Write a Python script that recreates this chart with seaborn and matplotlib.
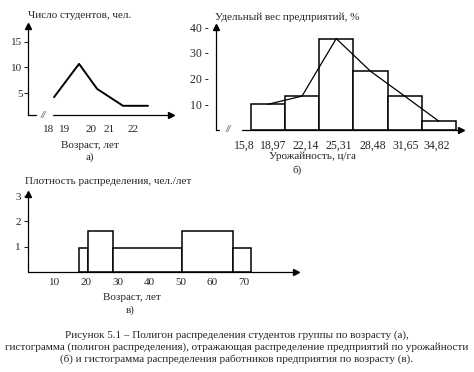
## Figure 5.1: polygon and histograms of distributions (student ages, yields, worker ages)
import numpy as np
import pandas as pd
import seaborn as sns
import matplotlib.pyplot as plt

# а) polygon: students by age
age_points = [18.24, 19.43, 20.29, 21.52, 22.71]
students = [4.2, 10.7, 5.8, 2.5, 2.5]
age_tick_pos = [18, 18.76, 20.0, 20.86, 22.0]
age_tick_labels = ["18", "19", "20", "21", "22"]

# б) histogram + polygon: share of enterprises by yield
yield_edges = [15.8, 18.97, 22.14, 25.31, 28.48, 31.65, 34.82]
share = [10, 13.2, 35.6, 22.9, 13.2, 3.4]
yield_tick_pos = [15.24, 17.93, 20.89, 23.98, 27.13, 30.16, 33.06]
yield_tick_labels = ["15,8", "18,97", "22,14", "25,31", "28,48", "31,65", "34,82"]

# в) histogram with unequal intervals: workers by age
worker_edges = [17.6, 20.4, 28.5, 50.2, 66.6, 72.1]
density = [0.95, 1.6, 0.95, 1.6, 0.95]

sns.set_theme(style="white")
plt.rcParams["font.family"] = ["Liberation Serif", "DejaVu Serif"]
FS = 8

W, H = 474, 372
fig = plt.figure(figsize=(W / 100, H / 100), dpi=100)


def px_axes(left, top, right, bottom):
    return fig.add_axes([left / W, 1 - bottom / H, (right - left) / W, (bottom - top) / H])


def draw_frame(ax, gap=None):
    for s in ax.spines.values():
        s.set_visible(False)
    ax.set_facecolor("none")
    kw = dict(transform=ax.transAxes, color="black", lw=0.9, clip_on=False)
    ax.plot([0, 0], [0, 0.985], **kw)
    ax.plot(0, 0.985, marker="^", color="black", ms=4, transform=ax.transAxes, clip_on=False)
    if gap is None:
        ax.plot([0, 0.985], [0, 0], **kw)
    else:
        ax.plot([0, gap[0]], [0, 0], **kw)
        ax.plot([gap[1], 0.985], [0, 0], **kw)
        ax.text((gap[0] + gap[1]) / 2 - 0.01, 0, "//", transform=ax.transAxes, fontsize=7,
                style="italic", ha="center", va="center")
    ax.plot(0.985, 0, marker=">", color="black", ms=4, transform=ax.transAxes, clip_on=False)


# а)
ax1 = px_axes(28, 25, 173, 115)
sns.lineplot(x=age_points, y=students, ax=ax1, color="black", lw=1.4)
ax1.set_xlim(17.0, 23.9)
ax1.set_ylim(0.7, 18.3)
ax1.set_yticks([5, 10, 15])
ax1.set_xticks(age_tick_pos)
ax1.set_xticklabels(age_tick_labels)
ax1.tick_params(axis="y", left=True, length=3, width=0.8, pad=1, labelsize=FS)
ax1.tick_params(axis="x", bottom=False, length=0, pad=7, labelsize=FS)
draw_frame(ax1, gap=((36 - 28) / 145, (53 - 28) / 145))

# б)
ax2 = px_axes(216, 25, 465, 130)
mids = [(a + b) / 2 for a, b in zip(yield_edges[:-1], yield_edges[1:])]
sns.histplot(x=mids, weights=share, bins=yield_edges, ax=ax2, color="white",
             edgecolor="black", linewidth=1.1, alpha=1)
sns.lineplot(x=mids, y=share, ax=ax2, color="black", lw=0.9)
ax2.set_xlim(12.59, 35.65)
ax2.set_ylim(0, 40.9)
ax2.set_yticks([10, 20, 30, 40])
ax2.set_yticklabels(["10 -", "20 -", "30 -", "40 -"])
ax2.set_xticks(yield_tick_pos)
ax2.set_xticklabels(yield_tick_labels)
ax2.set_xlabel("")
ax2.set_ylabel("")
ax2.tick_params(axis="y", left=False, length=0, pad=5, labelsize=8.5)
ax2.tick_params(axis="x", bottom=False, length=0, pad=7, labelsize=8.5)
draw_frame(ax2, gap=((219 - 216) / 249, (242 - 216) / 249))

# в)
ax3 = px_axes(28, 193, 300, 272)
wmids = [(a + b) / 2 for a, b in zip(worker_edges[:-1], worker_edges[1:])]
sns.histplot(x=wmids, weights=density, bins=worker_edges, ax=ax3, color="white",
             edgecolor="black", linewidth=1.1, alpha=1)
ax3.set_xlim(1.43, 87.8)
ax3.set_ylim(0, 3.12)
ax3.set_yticks([1, 2, 3])
ax3.set_xticks([10, 20, 30, 40, 50, 60, 70])
ax3.set_xlabel("")
ax3.set_ylabel("")
ax3.tick_params(axis="y", left=True, length=3, width=0.8, pad=2, labelsize=FS)
ax3.tick_params(axis="x", bottom=False, length=0, pad=4, labelsize=FS)
draw_frame(ax3)


def txt(x, y, s, ha="center"):
    fig.text(x / W, 1 - y / H, s, ha=ha, va="center", fontsize=FS)


txt(28, 16, "Число студентов, чел.", ha="left")
txt(90, 145, "Возраст, лет")
txt(90, 157, "а)")
txt(215, 17, "Удельный вес предприятий, %", ha="left")
txt(312, 156, "Урожайность, ц/га")
txt(297, 170, "б)")
txt(25, 181, "Плотность распределения, чел./лет", ha="left")
txt(132, 298, "Возраст, лет")
txt(130, 310, "в)")
txt(237, 335, "Рисунок 5.1 – Полигон распределения студентов группы по возрасту (а),")
txt(237, 347, "гистограмма (полигон распределения), отражающая распределение предприятий по урожайности")
txt(237, 359, "(б) и гистограмма распределения работников предприятия по возрасту (в).")

fig.savefig("out.png", dpi=100)
